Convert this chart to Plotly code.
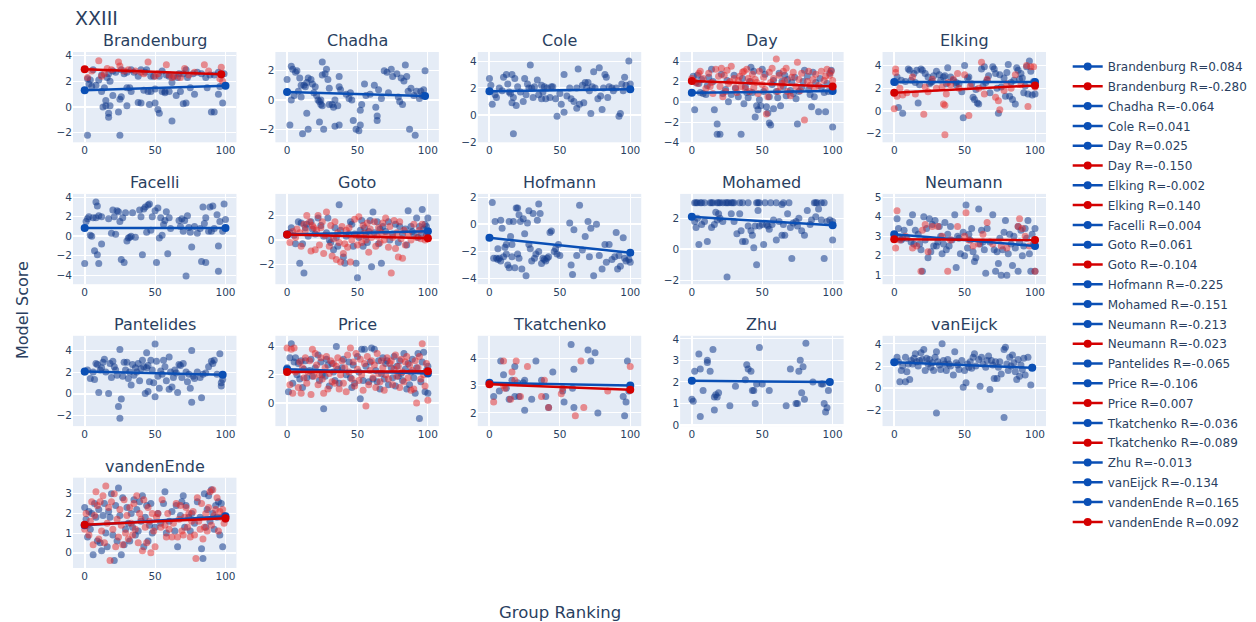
import plotly.graph_objects as go
from plotly.subplots import make_subplots

PANEL_NAMES = ["Brandenburg", "Chadha", "Cole", "Day", "Elking", "Facelli", "Goto", "Hofmann",
               "Mohamed", "Neumann", "Pantelides", "Price", "Tkatchenko", "Zhu", "vanEijck", "vandenEnde"]

Y_RANGES = [[-2.76, 4.29], [-2.89, 3.28], [-2.03, 4.67], [-4.0, 4.9], [-2.77, 5.2],
            [-4.93, 4.34], [-3.62, 3.78], [-4.42, 2.24], [-2.26, 3.58], [0.54, 5.17],
            [-3.03, 5.37], [-1.63, 4.76], [1.52, 4.82], [-0.05, 4.14], [-3.38, 4.72], [-0.78, 3.82]]
X_RANGE = [-8.3, 107.8]

# ---- scatter points (ranking, score) ----
BRANDENBURG_A = [(2,-2.2),(25,-2.2),(62,-1.1),(17,-0.8),(17,-0.5),(24,-0.4),(53,-0.5),(52,-0.2),(90,-0.4),(92,-0.4),
    (13,0.0),(15,0.1),(18,0.1),(30,0.1),(46,0.2),(50,0.3),(72,0.3),(98,0.3),(70,0.25),(38,0.35),(40,0.3),(25,0.6),
    (15,0.5),(26,0.8),(20,0.9),(65,0.9),(95,1.0),(78,1.0),(12,1.2),(33,1.2),(45,1.2),(47,1.2),(55,1.2),(57,1.2),
    (60,1.2),(68,1.2),(42,1.3),(5,1.6),(3,1.8),(8,1.7),(14,1.5),(32,1.5),(50,1.4),(57,1.1),(87,1.5),(75,1.5),
    (96,1.6),(30,1.5),(2,2.2),(4,2.1),(10,2.1),(16,2.3),(17,2.6),(20,2.8),(28,2.6),(33,2.9),(38,2.4),(40,2.9),
    (43,2.7),(47,2.4),(49,2.4),(53,2.4),(58,2.5),(60,2.4),(63,2.4),(66,2.3),(70,2.6),(73,2.3),(77,2.6),(80,2.7),
    (83,2.6),(86,2.3),(89,2.5),(92,2.5),(97,2.5),(99,2.6),(6,2.9),(12,2.5),(22,2.7),(26,2.9),(30,2.7),(35,2.7),
    (44,2.9),(55,2.8),(67,2.6),(72,2.9),(95,2.7),(18,2.0),(62,1.9)]
BRANDENBURG_B = [(10,3.6),(24,3.5),(45,3.5),(58,3.3),(85,3.3),(97,3.1),(71,3.0),(16,3.0),(25,3.2),(5,2.8),(12,2.4),
    (14,2.6),(19,2.9),(31,2.9),(36,2.8),(42,2.6),(52,2.6),(60,2.5),(62,2.3),(64,2.4),(68,2.3),(78,2.7),(88,2.8),
    (96,2.2),(98,2.0),(2,2.3),(40,2.7),(28,2.8),(50,2.4),(74,2.5)]
CHADHA_A = [(0,1.4),(3,2.3),(4,2.1),(6,1.9),(7,2.0),(9,1.5),(10,1.0),(12,1.0),(13,0.9),(14,1.2),(15,1.5),(17,1.4),
    (2,-1.7),(3,0.0),(10,0.2),(11,-2.3),(14,-0.9),(15,-2.0),(20,0.9),(21,0.3),(22,0.0),(23,-0.1),(24,0.0),(25,1.7),
    (25,2.6),(27,1.8),(28,2.1),(29,1.4),(30,0.8),(23,-1.5),(26,-2.0),(24,-0.3),(25,-0.4),(30,-0.3),(33,-0.5),(34,0.0),
    (36,-0.4),(37,1.6),(37,0.9),(38,0.7),(34,-1.8),(37,-1.7),(32,-0.3),(18,1.1),(19,0.5),(42,0.4),(44,0.1),(45,0.5),
    (46,0.0),(47,-1.4),(49,-2.0),(51,-2.1),(52,-1.7),(52,-0.7),(53,-0.3),(55,1.1),(56,0.3),(59,0.4),(62,1.0),(63,-0.5),
    (64,-1.1),(64,-1.4),(65,0.7),(67,0.1),(69,2.0),(71,1.9),(72,0.5),(74,2.1),(75,1.6),(78,1.8),(79,0.2),(80,-0.1),
    (81,1.5),(82,-0.3),(83,1.3),(84,2.4),(85,1.6),(86,0.6),(87,-2.0),(88,0.8),(90,0.3),(91,-2.4),(92,0.6),(94,0.1),
    (95,0.6),(97,0.7),(98,2.0),(96,0.3),(5,0.3),(8,0.6)]
COLE_A = [(0,2.7),(1,2.2),(2,0.8),(4,1.5),(5,1.3),(7,2.0),(9,1.8),(10,2.8),(12,3.0),(13,2.3),(14,1.7),(15,1.6),
    (16,3.0),(17,1.3),(18,2.7),(19,0.7),(17,-1.4),(16,0.9),(20,2.1),(22,1.7),(24,1.0),(25,2.7),(26,1.5),(27,2.3),
    (29,3.7),(30,2.0),(31,1.3),(32,2.1),(34,2.6),(35,1.5),(37,1.2),(37,2.2),(38,1.7),(39,2.1),(40,1.2),(41,2.0),
    (43,1.3),(45,2.1),(48,-0.1),(47,1.2),(50,1.6),(51,0.8),(53,0.2),(53,3.0),(55,1.4),(58,1.2),(60,1.0),(62,0.5),
    (62,2.0),(63,3.4),(64,0.8),(66,2.2),(67,0.9),(68,2.4),(69,2.0),(70,2.4),(71,1.8),(72,0.1),(73,2.1),(74,3.2),
    (75,2.0),(77,1.2),(78,3.5),(79,1.4),(80,0.4),(81,2.0),(82,3.0),(83,2.8),(84,1.3),(85,2.1),(87,2.0),(88,1.8),
    (90,2.0),(92,-0.1),(93,0.1),(94,2.3),(95,1.8),(96,2.8),(97,2.2),(99,4.0),(100,2.3),(57,2.0),(44,2.1),(28,2.0)]
DAY_A = [(1,2.5),(2,-0.8),(3,1.9),(4,2.6),(5,1.8),(7,2.2),(8,0.8),(10,0.7),(12,2.4),(14,3.2),(16,-0.8),(18,-2.2),
    (18,-3.2),(20,-3.2),(21,2.7),(22,0.8),(24,1.2),(26,0.0),(28,0.7),(30,2.6),(33,0.5),(35,-3.2),(37,-0.2),(38,1.5),
    (40,0.4),(42,3.4),(43,0.9),(44,3.0),(45,-1.5),(46,-0.4),(47,-0.8),(48,0.2),(49,-0.4),(50,3.2),(52,2.7),(53,-0.5),
    (54,-1.1),(55,-2.1),(56,-2.3),(58,-0.7),(60,1.0),(62,2.8),(63,-0.4),(65,1.5),(68,2.2),(70,1.1),(72,0.8),(75,-2.2),
    (76,1.0),(78,1.4),(80,3.1),(82,2.5),(84,0.7),(85,-0.5),(88,1.9),(90,-1.0),(92,1.4),(95,-1.0),(96,1.8),(98,2.8),
    (99,3.1),(100,-2.5),(100,1.3),(97,1.0),(86,2.9),(73,2.4),(66,2.6),(58,2.1),(51,1.0),(55,0.5),(6,0.9),(11,1.6),
    (15,2.0),(25,2.1),(31,1.3),(36,2.3),(39,0.9),(41,2.0),(57,1.7),(61,0.4),(64,2.0),(67,0.6),(71,1.9),(74,0.3),
    (79,2.0),(83,1.2),(87,0.5),(91,2.3),(94,0.9)]
DAY_B = [(0,2.3),(2,2.0),(4,1.8),(5,2.8),(8,2.3),(10,1.3),(12,2.8),(14,1.9),(15,0.8),(17,3.2),(19,2.5),(20,1.5),
    (21,3.3),(23,2.6),(24,1.0),(25,3.1),(26,1.8),(28,3.5),(30,2.3),(31,1.4),(32,0.9),(33,2.1),(34,2.5),(35,1.5),
    (36,2.9),(38,1.3),(39,3.2),(40,2.3),(41,1.0),(42,2.0),(43,2.7),(44,1.4),(45,2.2),(47,0.8),(48,3.0),(50,1.7),
    (51,2.4),(52,1.2),(53,-1.2),(54,0.5),(55,2.9),(56,1.9),(57,3.3),(58,2.3),(60,4.2),(61,1.0),(62,2.6),(64,1.8),
    (65,3.0),(66,2.1),(67,3.3),(68,1.0),(70,0.6),(71,2.4),(72,2.9),(74,1.5),(75,3.9),(76,2.2),(77,1.1),(78,2.8),
    (80,-1.8),(82,2.0),(83,3.0),(84,1.6),(86,2.2),(88,2.7),(90,1.6),(92,3.0),(94,2.1),(95,2.5),(96,3.2),(98,2.6),
    (99,3.0),(100,2.1),(6,3.0),(27,2.0),(37,3.0),(46,1.9),(63,1.5),(87,1.3),(13,1.5),(22,0.5)]
ELKING_A = [(1,2.5),(2,3.0),(3,0.3),(5,2.7),(6,-0.2),(8,2.6),(10,3.7),(11,3.6),(12,2.7),(14,3.3),(15,2.5),(16,3.6),
    (17,0.7),(18,2.3),(19,3.7),(20,3.6),(22,3.3),(24,3.0),(25,2.4),(26,2.5),(28,3.1),(30,3.5),(32,3.2),(33,2.7),
    (35,3.0),(36,3.1),(37,2.4),(38,3.8),(40,3.0),(42,2.7),(44,2.5),(46,2.4),(48,1.7),(49,-0.6),(50,4.0),(52,2.9),
    (53,3.0),(55,2.4),(56,1.2),(57,1.0),(58,1.9),(59,0.7),(60,0.6),(62,3.7),(63,2.2),(64,3.9),(65,2.5),(66,2.7),
    (68,1.6),(70,3.9),(71,3.7),(72,3.3),(73,2.0),(74,-0.2),(75,3.2),(76,2.1),(78,2.9),(79,1.3),(80,3.4),(81,4.1),
    (82,1.3),(83,2.5),(84,1.0),(85,2.7),(86,0.6),(87,3.8),(88,3.6),(89,2.8),(90,3.3),(91,2.9),(92,1.6),(93,2.2),
    (94,3.9),(95,1.5),(96,4.4),(97,3.5),(98,1.4),(99,2.6),(100,1.5),(44,2.3),(67,3.1),(27,2.6)]
ELKING_B = [(0,0.2),(1,3.7),(1,3.4),(2,1.3),(4,2.0),(6,1.4),(9,1.6),(13,3.0),(15,1.5),(21,-0.3),(22,2.1),(24,1.7),
    (27,2.8),(30,2.0),(34,2.1),(35,0.6),(36,-2.1),(36,0.5),(37,1.5),(38,2.5),(40,2.3),(42,2.8),(45,3.3),(46,2.0),
    (50,3.2),(53,-0.4),(54,2.2),(60,2.0),(62,4.3),(64,1.5),(66,2.8),(72,1.2),(74,0.9),(75,0.1),(78,1.8),(80,2.4),
    (83,2.0),(86,3.2),(90,2.3),(94,4.0),(95,0.4),(97,3.9),(99,3.9),(100,2.1)]
FACELLI_A = [(0,-2.8),(1,1.5),(2,1.8),(3,2.0),(4,0.1),(5,0.0),(6,1.9),(7,-1.5),(8,3.5),(8,1.9),(9,3.1),(9,-1.9),
    (10,-2.8),(10,2.1),(12,2.0),(12,-0.8),(17,1.8),(19,0.3),(20,2.7),(21,2.0),(22,0.2),(23,2.6),(24,2.5),(25,1.5),
    (26,-2.4),(27,1.9),(28,-2.7),(29,2.4),(30,-0.5),(31,-0.2),(32,-0.1),(33,0.0),(34,2.4),(36,-0.1),(39,2.7),(40,2.0),
    (41,-1.9),(42,2.8),(43,3.0),(44,0.4),(45,3.2),(46,3.3),(48,2.0),(50,2.6),(51,-2.7),(52,2.9),(53,-0.2),(54,1.9),
    (55,0.1),(56,1.2),(57,1.6),(58,2.5),(59,-1.8),(60,1.9),(61,0.8),(67,1.6),(68,1.0),(70,0.5),(71,1.6),(72,-4.1),
    (73,2.1),(74,0.9),(75,0.4),(76,-1.1),(78,1.0),(80,0.3),(82,0.8),(83,-2.6),(84,3.0),(85,1.3),(86,1.9),(86,-2.7),
    (88,0.5),(89,3.0),(90,0.5),(91,3.1),(92,0.8),(94,2.2),(95,-1.0),(95,-3.6),(96,1.5),(98,0.5),(99,3.3),(100,1.7),
    (69,1.8),(47,0.6)]
GOTO_A = [(2,0.6),(3,1.0),(5,0.4),(6,-0.3),(8,1.5),(9,-1.9),(10,1.4),(11,-0.3),(12,-2.7),(13,1.0),(14,1.3),(15,0.3),
    (17,1.5),(18,0.9),(20,0.5),(22,1.8),(24,1.2),(26,0.3),(28,0.6),(29,1.8),(30,0.0),(31,-0.2),(33,-0.8),(34,1.0),
    (35,0.2),(36,-0.5),(37,2.9),(38,0.8),(40,-1.4),(41,-1.9),(42,0.3),(44,0.5),(45,1.5),(46,1.3),(47,-0.5),(48,0.5),
    (49,-1.9),(50,-3.1),(51,0.2),(52,0.8),(53,1.6),(54,-0.5),(55,1.0),(56,0.3),(57,-0.2),(58,0.7),(59,1.6),(60,-2.2),
    (61,2.3),(62,0.6),(64,1.5),(65,-0.3),(66,0.9),(67,-1.9),(68,1.1),(70,0.7),(72,1.5),(73,0.0),(75,0.5),(77,1.3),
    (79,-0.2),(80,1.1),(82,0.5),(84,0.9),(85,-0.4),(86,2.4),(88,1.1),(89,0.7),(90,0.5),(92,1.8),(93,0.2),(94,1.1),
    (95,0.5),(96,2.5),(97,0.9),(98,1.3),(99,0.4),(100,1.8),(100,0.7),(99,1.1)]
GOTO_B = [(0,0.4),(2,-0.2),(4,0.7),(6,0.2),(7,0.9),(9,0.6),(10,-0.5),(12,1.3),(13,0.8),(14,2.0),(16,1.5),(17,-0.9),
    (18,1.2),(19,1.0),(20,-0.8),(21,0.8),(22,2.0),(23,-0.4),(24,1.0),(25,1.5),(26,-1.1),(27,0.4),(28,2.3),(30,-0.5),
    (31,1.2),(32,-1.3),(33,0.1),(34,1.5),(35,-1.6),(36,0.6),(37,-0.2),(38,-1.8),(39,1.1),(40,-1.1),(41,-0.3),(42,0.8),
    (43,-0.6),(44,1.0),(45,-1.8),(46,0.0),(48,1.7),(49,0.4),(50,-0.4),(51,1.9),(52,0.3),(53,-0.2),(54,1.2),(55,0.6),
    (56,0.0),(57,1.4),(58,-1.0),(59,0.9),(60,0.2),(62,1.5),(63,-0.5),(64,0.3),(65,1.0),(66,-0.2),(67,0.6),(68,1.4),
    (69,0.0),(70,1.8),(71,0.4),(72,-0.6),(73,1.1),(74,-2.7),(75,0.2),(76,1.6),(77,-0.7),(78,0.6),(79,-1.4),(80,1.5),
    (81,0.1),(82,-1.5),(83,0.8),(84,-0.4),(86,0.5),(88,0.0),(90,1.3),(92,0.2),(94,0.8),(95,0.1),(96,1.3),(98,0.0),
    (99,0.3),(100,0.1)]
HOFMANN_A = [(2,1.6),(3,-2.5),(4,0.2),(5,-2.5),(6,-1.8),(7,-2.5),(8,0.3),(8,-2.7),(9,-0.3),(10,-2.4),(11,-1.7),
    (12,-2.2),(12,-1.5),(13,-3.0),(14,0.2),(14,-3.2),(15,-0.9),(16,-2.4),(17,0.2),(18,-3.2),(19,1.2),(20,1.2),
    (20,-2.2),(21,0.7),(21,-2.5),(22,0.2),(23,-3.3),(24,0.4),(25,-0.7),(26,-3.8),(27,0.1),(28,1.0),(28,-1.5),
    (29,-1.8),(30,-2.7),(31,0.8),(32,-2.5),(33,-2.2),(34,0.3),(35,1.5),(35,-2.0),(36,0.8),(38,-2.5),(39,-2.6),
    (40,-2.7),(41,-2.5),(42,-2.4),(43,-0.6),(44,-0.5),(46,-2.0),(47,-1.8),(48,-2.2),(49,-1.5),(50,-2.3),(57,0.1),
    (58,-3.0),(59,-3.7),(60,-0.4),(62,-2.3),(64,1.4),(66,-1.9),(68,-0.9),(70,0.2),(71,-2.4),(72,-0.3),(74,-3.8),
    (76,0.0),(78,-2.3),(80,-3.3),(82,-1.5),(83,-2.8),(85,-1.5),(87,-2.6),(89,-2.4),(90,-0.6),(91,-3.3),(92,-2.3),
    (93,-3.1),(95,-1.0),(96,-2.5),(97,-2.7),(99,-2.6),(100,-2.8),(37,-2.9),(16,-1.5),(6,-2.6)]
MOHAMED_A = [(2,3.0),(3,3.0),(4,3.0),(6,3.0),(7,3.0),(9,3.0),(13,3.0),(14,3.0),(15,3.0),(18,3.0),(19,3.0),(20,3.0),
    (22,3.0),(24,3.0),(25,3.0),(26,3.0),(28,3.0),(29,3.0),(30,3.0),(34,3.0),(36,3.0),(40,3.0),(46,3.0),(47,3.0),
    (48,3.0),(52,3.0),(56,3.0),(60,3.0),(65,3.0),(69,3.0),(87,3.0),(88,3.0),(89,3.0),(92,3.0),(94,3.0),
    (2,1.8),(3,1.4),(4,2.0),(5,0.3),(7,1.6),(9,1.8),(11,0.5),(14,1.4),(16,1.6),(17,2.4),(18,1.9),(19,2.3),(20,2.0),
    (22,1.8),(25,-1.8),(28,2.3),(30,1.8),(32,1.0),(34,2.3),(35,1.2),(36,0.5),(38,0.5),(40,1.5),(42,1.2),(43,0.9),
    (44,0.1),(45,1.5),(46,-1.0),(47,2.5),(48,1.5),(50,1.6),(51,0.3),(53,1.6),(55,1.3),(57,1.6),(58,1.9),(60,0.6),
    (62,1.8),(64,0.9),(65,1.6),(66,0.9),(68,2.3),(70,1.4),(71,-0.6),(72,1.7),(74,1.8),(76,2.0),(80,0.9),(82,2.5),
    (84,1.6),(88,2.1),(90,2.6),(92,1.9),(94,-0.6),(96,1.8),(98,1.9),(100,0.6),(100,1.8),(64,2.9),(78,1.2),(85,1.9),
    (75,1.5),(54,1.5)]
NEUMANN_A = [(0,3.0),(2,3.9),(3,3.4),(4,2.9),(5,2.8),(7,3.3),(9,2.9),(11,3.7),(12,2.7),(13,4.1),(14,2.6),(15,3.3),
    (17,3.1),(18,2.6),(19,2.3),(20,1.2),(21,4.0),(22,2.8),(23,3.4),(24,1.9),(25,3.9),(26,2.2),(27,3.6),(28,2.5),
    (29,3.8),(30,2.5),(32,3.5),(33,3.0),(34,2.1),(35,2.6),(36,3.7),(37,2.3),(38,3.1),(39,2.5),(40,3.5),(41,2.8),
    (43,4.1),(44,1.4),(45,3.0),(46,2.9),(47,2.1),(49,3.2),(50,2.0),(51,4.6),(52,2.4),(53,3.1),(54,2.8),(55,3.4),
    (56,2.2),(57,1.7),(58,1.9),(60,4.4),(61,2.6),(62,3.3),(63,2.7),(64,2.3),(65,1.1),(66,3.4),(68,2.7),(70,4.1),
    (71,2.3),(72,1.2),(73,2.2),(74,1.6),(75,2.9),(76,1.0),(77,2.3),(78,3.2),(79,3.8),(80,1.0),(81,2.1),(82,3.1),
    (83,2.6),(84,1.5),(85,3.0),(86,2.4),(88,3.5),(88,1.2),(89,2.7),(90,3.3),(91,2.0),(92,2.5),(93,3.4),(94,2.9),
    (95,3.8),(96,2.1),(97,1.2),(98,3.1),(99,2.6),(100,3.4),(100,1.2),(31,2.7),(6,2.9)]
NEUMANN_B = [(2,4.3),(1,2.4),(4,2.8),(8,3.0),(13,2.4),(16,2.5),(19,1.2),(20,3.3),(22,3.6),(24,2.2),(27,3.5),(31,3.5),
    (34,3.0),(38,1.2),(40,2.8),(45,3.5),(50,3.0),(51,4.2),(53,2.8),(56,2.5),(60,2.6),(63,3.1),(66,3.7),(70,2.6),
    (76,2.5),(80,2.4),(88,3.5),(89,3.9),(93,3.0),(96,2.5),(100,1.2),(91,3.4)]
PANTELIDES_A = [(0,2.0),(2,2.2),(4,1.4),(6,2.0),(7,1.3),(8,2.8),(9,2.7),(10,0.1),(11,2.2),(12,2.4),(13,2.9),(14,3.2),
    (15,2.0),(17,0.0),(18,2.8),(19,1.5),(20,3.0),(21,2.5),(22,2.2),(23,1.7),(24,-1.2),(25,-2.3),(25,4.1),(26,-0.5),
    (27,1.6),(28,2.9),(29,2.2),(30,2.9),(31,1.4),(32,2.0),(33,0.8),(34,2.7),(35,1.7),(36,2.4),(37,2.0),(38,2.8),
    (39,1.2),(40,2.3),(41,3.1),(42,2.5),(43,0.0),(44,3.8),(45,0.2),(46,1.1),(47,3.1),(48,2.2),(49,1.0),(50,-0.3),
    (50,4.6),(51,3.0),(52,1.6),(53,0.5),(54,2.1),(55,1.8),(56,3.1),(57,2.5),(58,1.2),(60,0.4),(60,3.4),(61,2.0),
    (62,0.6),(63,1.5),(64,2.2),(65,1.9),(66,0.1),(67,2.7),(68,2.6),(69,1.5),(70,2.8),(72,2.0),(73,1.1),(74,1.8),
    (75,0.5),(76,4.0),(76,-0.8),(77,1.6),(78,1.4),(80,2.0),(82,1.5),(83,-0.4),(84,1.8),(86,1.9),(88,2.5),(90,3.0),
    (91,2.8),(92,3.1),(94,1.8),(96,3.7),(97,0.7),(97,1.0),(98,1.3),(44,2.4),(45,2.6)]
PRICE_A = [(0,2.5),(1,0.8),(2,3.2),(3,4.2),(4,1.4),(5,2.9),(6,3.2),(7,2.0),(8,2.8),(9,1.7),(10,3.0),(11,1.1),(12,2.4),
    (13,3.0),(14,1.8),(16,2.3),(17,3.1),(18,1.9),(20,2.5),(22,3.4),(23,1.6),(24,2.9),(25,2.0),(26,-0.4),(27,1.9),
    (28,3.1),(29,2.7),(30,1.2),(32,2.8),(33,2.2),(34,1.6),(35,4.0),(36,2.4),(37,1.4),(39,2.5),(40,3.1),(42,2.0),
    (44,2.9),(45,1.8),(46,1.1),(47,2.7),(48,1.4),(50,3.3),(51,2.2),(52,0.3),(53,3.8),(54,1.6),(55,3.8),(56,2.6),
    (58,1.5),(59,2.9),(60,3.9),(61,1.7),(62,3.8),(63,2.3),(64,1.5),(65,3.0),(66,1.0),(67,2.1),(68,3.2),(69,1.7),
    (70,2.8),(71,3.0),(72,1.3),(74,2.5),(75,1.8),(76,3.3),(77,1.2),(78,2.6),(79,1.9),(80,3.0),(81,2.1),(82,1.6),
    (83,3.5),(84,2.4),(85,1.0),(86,2.8),(87,1.3),(88,2.2),(89,3.1),(90,1.8),(91,0.7),(92,2.5),(93,3.5),(94,-1.1),
    (95,1.5),(96,2.9),(97,3.6),(98,0.8),(99,2.3),(100,2.6),(100,0.7)]
PRICE_B = [(0,3.9),(1,2.3),(2,1.3),(3,3.8),(4,0.7),(5,3.9),(6,2.2),(8,1.1),(9,2.9),(10,0.7),(11,2.5),(12,1.8),
    (13,3.2),(14,1.4),(15,2.2),(16,3.0),(17,0.6),(18,3.8),(19,1.9),(20,3.5),(21,2.7),(22,1.3),(23,2.0),(24,3.2),
    (25,1.7),(26,0.7),(27,2.5),(28,3.3),(29,1.0),(30,2.1),(31,3.0),(32,1.5),(33,2.8),(34,1.4),(35,2.6),(36,3.2),
    (37,1.0),(38,2.0),(39,3.0),(40,1.4),(41,2.5),(42,0.8),(43,3.4),(44,2.2),(45,3.9),(46,1.7),(47,2.9),(48,1.2),
    (49,3.5),(50,2.4),(51,1.6),(52,3.1),(53,2.0),(54,0.9),(55,2.8),(56,-0.2),(57,3.3),(58,1.3),(59,2.3),(60,3.0),
    (61,1.8),(62,2.7),(63,1.1),(64,3.5),(65,2.1),(66,1.5),(67,3.0),(68,2.5),(69,0.9),(70,2.0),(71,3.2),(72,1.7),
    (73,2.8),(74,3.0),(75,1.3),(76,2.4),(77,3.4),(78,1.9),(79,2.6),(80,1.1),(81,3.1),(82,2.2),(83,1.5),(84,2.9),
    (85,3.3),(86,1.8),(87,2.7),(88,0.9),(89,2.3),(90,1.0),(91,3.0),(92,0.0),(93,2.5),(94,3.3),(95,1.7),(96,4.2),
    (97,2.0),(98,1.2),(99,2.8),(100,0.2)]
TKATCHENKO_A = [(3,2.6),(7,2.8),(8,3.9),(10,3.4),(12,2.9),(14,2.5),(16,3.2),(18,3.7),(18,2.6),(21,2.6),(24,3.1),
    (25,3.2),(25,2.1),(30,2.5),(33,3.9),(37,3.2),(40,2.6),(42,2.2),(45,3.5),(52,2.8),(53,2.4),(58,4.5),(59,2.9),
    (60,3.6),(60,2.2),(70,4.3),(72,3.9),(75,4.2),(77,2.0),(95,2.6),(96,1.9),(97,2.4),(98,3.9),(99,2.8),(20,3.1)]
TKATCHENKO_B = [(3,2.4),(10,3.9),(11,2.9),(15,2.5),(16,3.5),(18,3.2),(19,3.9),(22,2.6),(27,3.7),(37,2.6),(39,3.2),
    (42,2.2),(51,2.7),(52,2.9),(61,1.9),(65,3.9),(67,2.2),(84,2.8),(100,3.7),(10,3.0)]
ZHU_A = [(0,1.2),(1,1.1),(2,2.5),(5,3.3),(6,2.6),(6,0.4),(8,1.6),(11,3.0),(11,2.9),(13,2.5),(15,3.5),(16,1.3),
    (16,0.7),(17,1.4),(18,1.3),(19,1.5),(27,0.9),(31,1.8),(38,2.1),(39,2.8),(40,2.6),(42,2.5),(43,1.6),(44,1.6),
    (45,1.0),(46,1.9),(48,3.6),(50,1.9),(55,1.6),(67,0.9),(70,2.6),(74,1.0),(75,1.0),(76,2.5),(77,3.0),(78,1.5),
    (79,2.7),(80,1.2),(81,3.8),(86,2.0),(92,1.9),(93,1.9),(94,1.0),(95,0.6),(96,0.8),(97,1.6)]
VANEIJCK_A = [(2,2.8),(3,2.4),(4,0.6),(5,1.6),(6,2.0),(8,0.6),(8,2.8),(9,1.5),(10,2.2),(11,0.8),(12,2.5),(13,2.2),
    (14,2.7),(15,3.1),(16,2.4),(17,2.0),(18,2.5),(19,3.2),(20,2.6),(21,3.5),(22,1.6),(23,2.7),(24,2.2),(25,2.6),
    (26,1.9),(27,2.3),(28,1.6),(29,2.8),(30,3.3),(30,-2.2),(31,2.4),(32,2.1),(33,1.7),(34,4.0),(35,2.5),(36,2.2),
    (37,1.6),(38,2.6),(39,2.2),(40,2.0),(42,1.2),(43,3.3),(44,2.3),(45,2.1),(46,1.7),(48,2.5),(49,0.1),(50,1.6),
    (51,0.5),(52,2.2),(53,1.9),(54,2.4),(55,1.8),(56,2.8),(57,3.1),(58,2.0),(60,2.6),(61,0.2),(62,2.8),(63,2.2),
    (65,1.9),(66,2.5),(67,2.9),(68,-0.1),(69,2.5),(70,2.1),(71,0.9),(72,2.4),(73,0.9),(74,1.9),(75,2.4),(76,1.3),
    (78,3.5),(78,-2.6),(79,3.7),(80,2.2),(81,1.6),(82,2.8),(83,2.0),(84,3.0),(85,2.3),(86,1.5),(87,0.8),(88,2.6),
    (89,1.1),(90,2.1),(91,1.7),(92,2.7),(93,1.2),(95,2.8),(97,0.3),(98,1.9)]
VANDENENDE_A = [(0,2.3),(1,1.7),(2,0.8),(3,2.1),(4,1.2),(5,2.0),(6,-0.1),(7,2.5),(8,1.8),(9,0.6),(10,2.2),(11,0.5),
    (12,0.1),(13,1.9),(14,2.5),(15,1.0),(16,0.3),(17,2.1),(18,1.8),(19,3.0),(20,0.9),(21,-0.4),(22,2.4),(23,0.6),
    (24,3.3),(25,1.9),(26,-0.1),(27,2.8),(28,0.4),(29,1.2),(30,2.3),(31,1.5),(32,0.6),(33,2.0),(34,1.3),(35,2.7),
    (36,0.9),(37,2.2),(38,1.1),(39,2.6),(40,1.6),(41,2.9),(42,0.3),(43,1.8),(44,2.4),(45,0.6),(46,1.4),(47,2.5),
    (48,1.0),(50,1.3),(52,2.0),(54,1.5),(56,2.5),(57,3.1),(58,1.0),(60,1.6),(62,2.1),(64,1.1),(65,2.4),(66,0.3),
    (68,1.9),(69,2.6),(70,2.9),(71,1.3),(72,2.4),(74,1.8),(75,1.1),(76,2.0),(78,1.5),(80,2.6),(82,1.8),(83,0.2),
    (84,-0.3),(85,3.0),(86,1.3),(87,2.2),(88,2.9),(89,1.6),(90,3.2),(91,2.0),(92,1.2),(93,2.4),(94,1.8),(95,2.6),
    (96,0.9),(97,2.5),(98,0.3),(99,1.9),(100,1.7)]
VANDENENDE_B = [(0,1.2),(1,2.0),(2,1.4),(3,0.9),(4,1.6),(5,2.6),(6,0.4),(7,1.9),(8,3.1),(9,2.4),(10,0.7),(11,2.6),
    (12,1.1),(13,2.9),(14,0.5),(15,3.4),(16,1.5),(17,2.3),(18,-0.4),(19,2.6),(20,1.2),(21,3.0),(22,0.3),(23,1.7),
    (24,0.8),(25,2.2),(26,1.4),(27,0.4),(28,2.7),(29,1.0),(30,1.9),(31,0.7),(32,2.3),(33,1.5),(34,0.9),(35,2.5),
    (36,1.2),(37,2.9),(38,0.5),(39,2.0),(40,1.7),(41,0.1),(42,2.7),(43,1.3),(44,0.5),(45,2.3),(46,1.6),(47,0.0),
    (48,2.0),(49,1.1),(50,0.3),(51,1.8),(52,2.0),(54,1.3),(55,2.7),(57,1.4),(58,0.8),(59,2.0),(60,1.2),(62,0.8),
    (63,1.5),(65,2.5),(66,0.8),(67,1.7),(68,2.4),(69,1.1),(70,0.9),(71,1.8),(72,2.3),(73,1.3),(74,2.0),(75,0.8),
    (76,1.6),(77,2.1),(78,0.9),(79,-0.3),(80,2.8),(81,1.6),(82,1.2),(83,2.5),(84,0.7),(85,1.3),(86,2.0),(87,1.1),
    (88,2.3),(89,3.1),(90,1.4),(91,3.2),(92,1.9),(93,2.2),(94,2.8),(95,1.1),(96,2.1),(97,1.8),(98,2.2),(99,1.5),
    (100,1.7)]

PANEL_POINTS_A = [BRANDENBURG_A, CHADHA_A, COLE_A, DAY_A, ELKING_A, FACELLI_A, GOTO_A, HOFMANN_A, MOHAMED_A,
                  NEUMANN_A, PANTELIDES_A, PRICE_A, TKATCHENKO_A, ZHU_A, VANEIJCK_A, VANDENENDE_A]
PANEL_POINTS_B = [BRANDENBURG_B, None, None, DAY_B, ELKING_B, None, GOTO_B, None, None,
                  NEUMANN_B, None, PRICE_B, TKATCHENKO_B, None, None, VANDENENDE_B]

# ---- fitted lines ----
FIT_LABELS = ["Brandenburg R=0.084", "Brandenburg R=-0.280", "Chadha R=-0.064", "Cole R=0.041", "Day R=0.025",
              "Day R=-0.150", "Elking R=-0.002", "Elking R=0.140", "Facelli R=0.004", "Goto R=0.061",
              "Goto R=-0.104", "Hofmann R=-0.225", "Mohamed R=-0.151", "Neumann R=-0.213", "Neumann R=-0.023",
              "Pantelides R=-0.065", "Price R=-0.106", "Price R=0.007", "Tkatchenko R=-0.036",
              "Tkatchenko R=-0.089", "Zhu R=-0.013", "vanEijck R=-0.134", "vandenEnde R=0.165", "vandenEnde R=0.092"]
FIT_PANEL = [0, 0, 1, 2, 3, 3, 4, 4, 5, 6, 6, 7, 8, 9, 9, 10, 11, 11, 12, 12, 13, 14, 15, 15]
FIT_GROUP = ["A", "B", "A", "A", "A", "B", "A", "B", "A", "A", "B", "A", "A", "A", "B", "A", "A", "B", "A", "B",
             "A", "A", "A", "B"]
FIT_X0 = [0, 0, 0, 0, 0, 0, 0, 0, 0, 0, 0, 0, 0, 0, 0, 0, 0, 0, 0, 0, 0, 0, 0, 0]
FIT_X1 = [100, 97, 98, 100, 100, 100, 100, 100, 100, 100, 100, 100, 100, 100, 100, 98, 100, 100, 100, 100,
          98, 98, 100, 100]
FIT_Y0 = [1.3, 2.95, 0.55, 1.75, 0.88, 2.03, 2.55, 1.6, 0.85, 0.45, 0.45, -1.0, 2.1, 3.1, 2.85, 2.05, 2.4, 2.2,
          3.1, 3.05, 2.05, 2.35, 1.4, 1.42]
FIT_Y1 = [1.65, 2.55, 0.28, 1.9, 1.05, 1.51, 2.55, 2.25, 0.85, 0.72, 0.15, -2.1, 1.55, 2.5, 2.8, 1.75, 2.1, 2.25,
          3.0, 2.85, 2.0, 1.85, 1.85, 1.75]

POINT_COLOR = {"A": "rgba(20,60,140,0.55)", "B": "rgba(230,40,40,0.5)"}
LINE_COLOR = {"A": "#0a4fb5", "B": "#d40000"}
FONT = "DejaVu Sans, Verdana, sans-serif"

fig = make_subplots(rows=4, cols=5, subplot_titles=PANEL_NAMES, horizontal_spacing=0.04,
                    vertical_spacing=0.1)

for i, name in enumerate(PANEL_NAMES):
    r, c = i // 5 + 1, i % 5 + 1
    for grp, pts in (("A", PANEL_POINTS_A[i]), ("B", PANEL_POINTS_B[i])):
        if not pts:
            continue
        fig.add_trace(go.Scatter(x=[p[0] for p in pts], y=[p[1] for p in pts], mode="markers",
                                 marker=dict(size=7, color=POINT_COLOR[grp]), showlegend=False,
                                 hoverinfo="skip"), row=r, col=c)

for k, label in enumerate(FIT_LABELS):
    i = FIT_PANEL[k]
    r, c = i // 5 + 1, i % 5 + 1
    col = LINE_COLOR[FIT_GROUP[k]]
    fig.add_trace(go.Scatter(x=[FIT_X0[k], FIT_X1[k]], y=[FIT_Y0[k], FIT_Y1[k]], mode="lines+markers",
                             line=dict(color=col, width=2.5), marker=dict(size=8, color=col), name=label,
                             legendgroup="g%d" % k),
                  row=r, col=c)

for i in range(len(PANEL_NAMES)):
    r, c = i // 5 + 1, i % 5 + 1
    fig.update_xaxes(range=X_RANGE, tickfont=dict(size=10.5), row=r, col=c)
    fig.update_yaxes(range=Y_RANGES[i], tickfont=dict(size=10.5), row=r, col=c)

for ann in fig.layout.annotations:
    ann.font = dict(size=16, family=FONT, color="#2a3f5f")

# page offset (body margin) is 8px, so margins are reduced by 8 to keep plot areas in place;
# the figure is wider than the window so that the legend never pushes the plot margins
fig.add_annotation(text="Group Ranking", x=0.5, y=0, xref="paper", yref="paper", xanchor="center",
                   yanchor="middle", yshift=-44, showarrow=False, font=dict(size=16.5, family=FONT))
fig.add_annotation(text="Model Score", x=0, y=0.5, xref="paper", yref="paper", xanchor="center",
                   yanchor="middle", xshift=-51, textangle=-90, showarrow=False, font=dict(size=16, family=FONT))
fig.add_annotation(text="XXIII", x=0, y=1, xref="paper", yref="paper", xanchor="left",
                   yanchor="middle", yshift=34, showarrow=False, font=dict(size=19, family=FONT))

fig.update_layout(
    width=1290, height=614,
    font=dict(family=FONT),
    margin=dict(l=65, r=252, t=44, b=54),
    legend=dict(font=dict(size=12, family=FONT), x=1.0223, tracegroupgap=0.8),
)

fig.write_html("out.html")
